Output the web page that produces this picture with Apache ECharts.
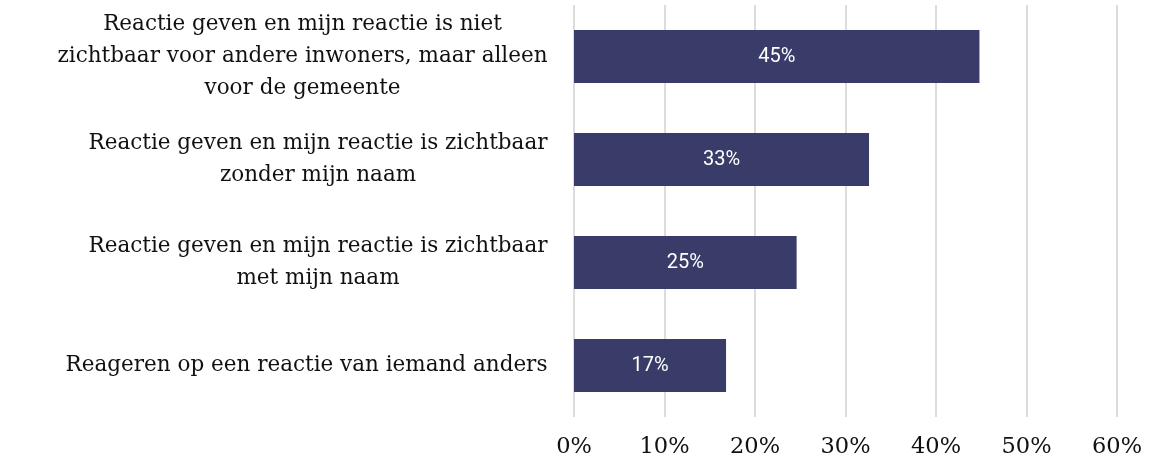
<!DOCTYPE html>
<html>
<head>
<meta charset="utf-8">
<script src="https://cdn.jsdelivr.net/npm/echarts@6/dist/echarts.min.js"></script>
<style>
  html, body { margin: 0; padding: 0; background: #fff; }
  #chart { width: 1171px; height: 459px; }
</style>
</head>
<body>
<div id="chart"></div>
<script>
const categories = [
  'Reactie geven en mijn reactie is niet\nzichtbaar voor andere inwoners, maar alleen\nvoor de gemeente',
  'Reactie geven en mijn reactie is zichtbaar\nzonder mijn naam',
  'Reactie geven en mijn reactie is zichtbaar\nmet mijn naam',
  'Reageren op een reactie van iemand anders'
];
const values = [44.8, 32.6, 24.6, 16.8];
const tickLabels = ['0%', '10%', '20%', '30%', '40%', '50%', '60%'];

const labelFont = 'DejaVu Serif';
const labelSize = 21.5;
const ctx = document.createElement('canvas').getContext('2d');
ctx.font = labelSize + 'px "' + labelFont + '"';
const rich = {};
categories.forEach((c, i) => {
  const w = Math.max(...c.split('\n').map(l => ctx.measureText(l).width));
  rich['c' + i] = {
    width: Math.ceil(w) + 1,
    align: 'center',
    fontFamily: labelFont,
    fontSize: labelSize,
    lineHeight: 32,
    color: '#111111'
  };
});

const chart = echarts.init(document.getElementById('chart'));
chart.setOption({
  animation: false,
  grid: { left: 574, right: 54, top: 5, bottom: 42, containLabel: false },
  xAxis: {
    type: 'value',
    min: 0, max: 60, interval: 10,
    axisLine: { show: false },
    axisTick: { show: false },
    splitLine: { show: true, lineStyle: { color: '#dcdcdc', width: 2 } },
    axisLabel: {
      margin: 19,
      fontFamily: labelFont,
      fontSize: 22.5,
      color: '#111111',
      formatter: (v) => tickLabels[Math.round(v / 10)]
    }
  },
  yAxis: {
    type: 'category',
    inverse: true,
    data: categories,
    axisLine: { show: false },
    axisTick: { show: false },
    axisLabel: {
      margin: 26,
      formatter: (v, i) => '{c' + i + '|' + v + '}',
      rich: rich
    }
  },
  series: [{
    type: 'bar',
    data: values,
    barWidth: 53,
    itemStyle: { color: '#393c68' },
    label: {
      show: true,
      position: 'inside',
      color: '#ffffff',
      fontFamily: 'Roboto',
      fontSize: 20,
      formatter: (p) => Math.round(p.value) + '%'
    }
  }]
});
</script>
</body>
</html>
